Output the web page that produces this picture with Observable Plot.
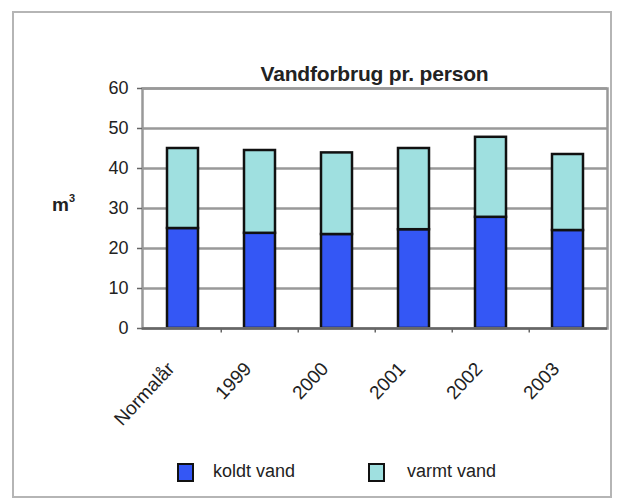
<!DOCTYPE html>
<html><head><meta charset="utf-8">
<script src="https://cdn.jsdelivr.net/npm/d3@7"></script>
<script src="https://cdn.jsdelivr.net/npm/@observablehq/plot@0.6"></script>
<style>
body{margin:0;background:#fff;font-family:"Liberation Sans",Arial,sans-serif;}
#wrap{position:relative;width:620px;height:501px;overflow:hidden;}
#box{position:absolute;left:12px;top:11px;width:600px;height:487px;border:2px solid #b5b5b5;box-sizing:border-box;}
#title{position:absolute;left:142px;width:465px;top:62px;text-align:center;font-size:21px;font-weight:bold;color:#222;letter-spacing:-0.2px;}
#ylab{position:absolute;left:52px;top:192px;font-size:19px;font-weight:bold;color:#222;}
#legend{position:absolute;top:461px;left:0;width:620px;font-size:18px;color:#222;}
.sw{position:absolute;width:17px;height:19px;border:2.5px solid #111;box-sizing:border-box;}
.lt{position:absolute;}
svg{position:absolute;left:0;top:0;}
</style></head>
<body><div id="wrap"><div id="box"></div><div id="chart"></div>
<div id="title">Vandforbrug pr. person</div>
<div id="ylab">m<sup style="font-size:11px;vertical-align:9px">3</sup></div>
<div id="legend"></div></div>
<script>
const categories = ["Normalår","1999","2000","2001","2002","2003"];
const koldt = [25, 23.8, 23.5, 24.7, 27.8, 24.5];
const varmt = [20, 20.7, 20.4, 20.3, 20.0, 19.0];
const seriesNames = ["koldt vand","varmt vand"];
const colors = ["#3457f5","#9fe0e0"];

const data = [];
categories.forEach((c,i)=>{
  data.push({cat:c, series:seriesNames[0], value:koldt[i]});
  data.push({cat:c, series:seriesNames[1], value:varmt[i]});
});

const plot = Plot.plot({
  width:620, height:450,
  marginLeft:142, marginRight:13, marginTop:88, marginBottom:122,
  style:{fontFamily:"Liberation Sans, Arial, sans-serif", fontSize:"18px", color:"#222", background:"transparent", overflow:"visible"},
  x:{domain:categories, paddingInner:0.6, paddingOuter:0.3, label:null},
  y:{domain:[0,60], ticks:[0,10,20,30,40,50,60], label:null},
  color:{domain:seriesNames, range:colors},
  marks:[
    Plot.gridY({ticks:[10,20,30,40,50,60], stroke:"#999", strokeOpacity:1, strokeWidth:2.5}),
    Plot.barY(data, Plot.stackY({x:"cat", y:"value", fill:"series", order:seriesNames, stroke:"#111", strokeWidth:2.5})),
    Plot.frame({stroke:"#999", strokeWidth:2.5}),
    Plot.ruleY([0], {stroke:"#666", strokeWidth:2.5}),
    Plot.ruleX(categories.slice(1), {x:d=>d, y1:0, y2:-1.1, dx:-38.75, stroke:"#666", strokeWidth:1.5}),
    Plot.axisY({ticks:[0,10,20,30,40,50,60], tickSize:5, tickPadding:9, fontSize:18, stroke:"#666", strokeWidth:1.5}),
    Plot.axisX({tickRotate:-47, tickSize:0, tickPadding:0, dx:-12, dy:37, fontSize:19, textAnchor:"end"})
  ]
});
document.getElementById("chart").appendChild(plot);

const lg = document.getElementById("legend");
const pos = [[177,213],[368,407]];
seriesNames.forEach((s,i)=>{
  const sw = document.createElement("div"); sw.className="sw";
  sw.style.left=pos[i][0]+"px"; sw.style.top="2px"; sw.style.background=colors[i];
  const t = document.createElement("div"); t.className="lt"; t.textContent=s;
  t.style.left=pos[i][1]+"px"; t.style.top="0px";
  lg.appendChild(sw); lg.appendChild(t);
});
</script></body></html>
